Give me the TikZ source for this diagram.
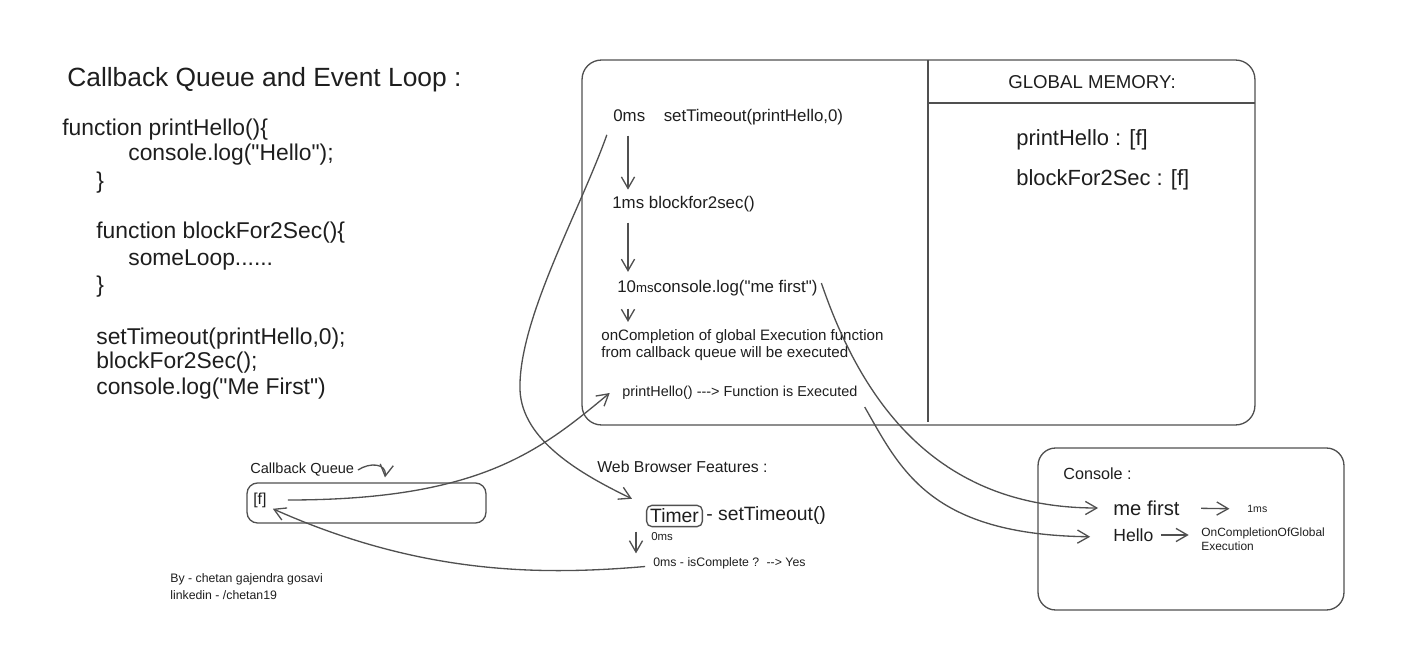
\documentclass[tikz,border=0pt]{standalone}
\usepackage{fontspec}
\setmainfont{Liberation Sans}[Ligatures=TeXOff]
\usetikzlibrary{arrows.meta}
\tikzset{
  txt/.style={anchor=west,inner sep=0pt,text=inkdark},
  titletext/.style={txt,font=\fontsize{15}{18}\selectfont},
  codetext/.style={txt,font=\fontsize{13}{15}\selectfont},
  memtext/.style={txt,font=\fontsize{12.5}{15}\selectfont},
  steptext/.style={txt,font=\fontsize{9.6}{11}\selectfont},
  smalltext/.style={txt,font=\fontsize{8.6}{9.8}\selectfont},
  labeltext/.style={txt,font=\fontsize{9}{11}\selectfont},
  tinytext/.style={txt,font=\fontsize{7}{8.2}\selectfont},
  ln/.style={draw=linegray,line width=0.75pt},
  arr/.style={ln,-{Straight Barb[length=6.5pt,width=7.5pt]}},
  roundbox/.style={ln,rounded corners=#1,inner sep=0pt},
}
\begin{document}
\begin{tikzpicture}[x=0.02cm,y=-0.02cm]
\definecolor{linegray}{RGB}{80,80,80}
\definecolor{inkdark}{RGB}{30,30,30}
\useasboundingbox (0,0) rectangle (1418,665);
% code on the left
\node[titletext] (title) at (67,80) {Callback Queue and Event Loop :};
\node[codetext] (code1) at (62,130) {function printHello()\{};
\node[codetext] (code2) at (128,155) {console.log("Hello");};
\node[codetext] (code3) at (96,183) {\}};
\node[codetext] (code4) at (96,233) {function blockFor2Sec()\{};
\node[codetext] (code5) at (128,260) {someLoop......};
\node[codetext] (code6) at (96,287) {\}};
\node[codetext] (code7) at (96,339) {setTimeout(printHello,0);};
\node[codetext] (code8) at (96,363) {blockFor2Sec();};
\node[codetext] (code9) at (96,389) {console.log("Me First")};
% call stack and global memory
\node[roundbox=11pt,minimum width=13.46cm,minimum height=7.3cm] (execbox) at (918.5,242.5) {};
\draw[ln] (928,60) to (928,422);
\draw[ln] (928,103) to (1255,103);
\node[labeltext,anchor=center,font=\fontsize{10.6}{13}\selectfont] (memhead) at (1092,82) {GLOBAL MEMORY:};
\node[memtext] (mem1) at (1016,140) {printHello : [f]};
\node[memtext] (mem2) at (1016,180) {blockFor2Sec : [f]};
\node[steptext] (step0) at (613,117) {0ms\hspace{1.1em}setTimeout(printHello,0)};
\node[steptext] (step1) at (612,204) {1ms blockfor2sec()};
\node[steptext] (step2) at (617,288) {10{\fontsize{7.5}{9}\selectfont ms}console.log("me first")};
\node[smalltext,align=left] (oncomp) at (601,345) {onCompletion of global Execution function\\from callback queue will be executed};
\node[tinytext,font=\fontsize{8.2}{9.8}\selectfont] (phexec) at (622,393) {printHello() ---> Function is Executed};
\coordinate (stepx) at (628,0);
\draw[arr,shorten <=6pt,shorten >=3.5pt] (stepx |- step0.south) to (stepx |- step1.north);
\draw[arr,shorten <=6pt,shorten >=4.5pt] (stepx |- step1.south) to (stepx |- step2.north);
\draw[arr,shorten <=7pt,shorten >=4pt] (stepx |- step2.south) to (stepx |- oncomp.north);
% callback queue
\node[roundbox=6pt,minimum width=4.78cm,minimum height=0.8cm] (cqbox) at (366.5,503) {};
\node[labeltext,font=\fontsize{8.3}{10}\selectfont] (cqlabel) at (250,470) {Callback Queue};
\node[labeltext] (cqf) at (253,500) {[f]};
\draw[arr] ([xshift=2pt]cqlabel.east) .. controls +(12,-8) and +(2,-14) .. ([xshift=10.5pt,yshift=2.8pt]cqbox.north);
% web browser features
\node[labeltext] (webhead) at (597,467) {Web Browser Features :};
\node[ln,rounded corners=3pt,inner sep=2pt,text=inkdark,font=\fontsize{11}{13}\selectfont] (timer) at (674.5,516) {Timer};
\node[txt,font=\fontsize{11}{13}\selectfont] (settime) at (706,516) {- setTimeout()};
\node[tinytext,font=\fontsize{6.5}{8}\selectfont] (timerms) at (651,537) {0ms};
\node[tinytext] (iscomp) at (653,563) {0ms - isComplete ?\hspace{0.6em}--> Yes};
\coordinate (timx) at (636,0);
\draw[arr,shorten <=2.5pt,shorten >=2pt] (timx |- timer.south) to (timx |- iscomp.north);
% console
\node[roundbox=10pt,minimum width=6.12cm,minimum height=3.24cm] (conbox) at (1191,529) {};
\node[labeltext,font=\fontsize{9.2}{11}\selectfont] (conhead) at (1063,474) {Console :};
\node[memtext,font=\fontsize{11.5}{13}\selectfont] (mefirst) at (1113,508) {me first};
\node[memtext,font=\fontsize{10}{12}\selectfont] (hello) at (1113,535) {Hello};
\node[tinytext,font=\fontsize{6}{7}\selectfont] (onems) at (1247,509) {1ms};
\node[tinytext,font=\fontsize{6.8}{7.8}\selectfont,align=left] (ocglobal) at (1201,539) {OnCompletionOfGlobal\\Execution};
\draw[arr,shorten <=12pt,shorten >=10pt] (mefirst.east) to (onems.west);
\draw[arr,shorten <=4pt,shorten >=7pt] (hello.east) to (ocglobal.west |- hello.east);
% the long connectors
\coordinate (bend) at (520,390);
\draw[arr] ([xshift=-3.5pt,yshift=-5.5pt]step0.south west) .. controls +(-27,76) and +(-2,-70) .. (bend) .. controls +(2,50) and +(-52,-25) .. ([xshift=-8pt,yshift=3.4pt]timer.north west);
\draw[arr] ([xshift=12pt]cqf.east) .. controls +(192,0) and +(-70,58) .. ([xshift=-7pt]phexec.west);
\draw[arr] ([xshift=-4.5pt,yshift=-2pt]iscomp.west) .. controls +(-105,9) and +(148,66) .. ([xshift=3.4pt,yshift=-5pt]cqf.east);
\draw[arr] ([xshift=2pt,yshift=2.8pt]step2.east) .. controls +(40,117) and +(-163,0) .. ([xshift=-8.5pt]mefirst.west);
\draw[arr] ([xshift=4pt,yshift=-8pt]phexec.east) .. controls +(36,63) and +(-160,-2) .. ([xshift=-13pt,yshift=-1pt]hello.west);
% footer
\node[tinytext] (by1) at (170,579) {By - chetan gajendra gosavi};
\node[tinytext] (by2) at (170,595) {linkedin - /chetan19};
\end{tikzpicture}
\end{document}
